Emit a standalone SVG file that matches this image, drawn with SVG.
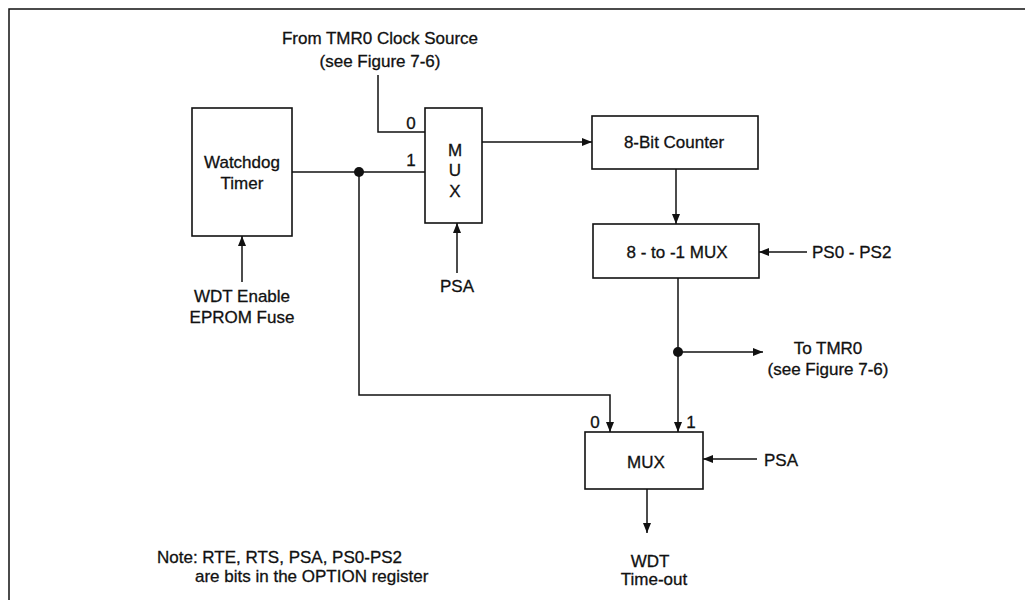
<svg xmlns="http://www.w3.org/2000/svg" width="1025" height="600" viewBox="0 0 1025 600">
<style>
  .box { fill: #fff; stroke: #111; stroke-width: 1.6; }
  .wire { fill: none; stroke: #111; stroke-width: 1.5; }
  text { font-family: "Liberation Sans", Arial, sans-serif; font-size: 17px; fill: #111; stroke: #111; stroke-width: 0.3; }
  .c { text-anchor: middle; }
</style>
<defs>
  <marker id="arr" markerWidth="10" markerHeight="8" refX="10" refY="4" orient="auto" markerUnits="userSpaceOnUse">
    <path d="M0,0 L10,4 L0,8 Z" fill="#111"/>
  </marker>
</defs>
<rect width="1025" height="600" fill="#fff"/>
<path class="wire" d="M9,600 V9 H1025" stroke-width="1.8"/>

<g id="connectors">
  <path class="wire" d="M378,75 V132 H425"/>
  <path class="wire" d="M292,172 H425"/>
  <path class="wire" d="M359,172 V395 H610 V432" marker-end="url(#arr)"/>
  <path class="wire" d="M482,142 H592" marker-end="url(#arr)"/>
  <path class="wire" d="M457,273 V223" marker-end="url(#arr)"/>
  <path class="wire" d="M242,282 V236" marker-end="url(#arr)"/>
  <path class="wire" d="M676,169 V224" marker-end="url(#arr)"/>
  <path class="wire" d="M807,252 H759" marker-end="url(#arr)"/>
  <path class="wire" d="M678,278 V432" marker-end="url(#arr)"/>
  <path class="wire" d="M678,352 H763" marker-end="url(#arr)"/>
  <path class="wire" d="M757,459 H703" marker-end="url(#arr)"/>
  <path class="wire" d="M647,489 V533" marker-end="url(#arr)"/>
  <circle cx="359" cy="172" r="5" fill="#111"/>
  <circle cx="678" cy="352" r="5" fill="#111"/>
</g>

<g id="tmr0-source">
  <text class="c" x="380" y="44">From TMR0 Clock Source</text>
  <text class="c" x="380" y="67">(see Figure 7-6)</text>
</g>

<g id="watchdog-timer">
  <rect class="box" x="192" y="108" width="100" height="128"/>
  <text class="c" x="242" y="168">Watchdog</text>
  <text class="c" x="242" y="189">Timer</text>
</g>

<g id="wdt-enable">
  <text class="c" x="242" y="302">WDT Enable</text>
  <text class="c" x="242" y="323">EPROM Fuse</text>
</g>

<g id="mux1">
  <rect class="box" x="425" y="108" width="57" height="115"/>
  <text class="c" x="455" y="156">M</text>
  <text class="c" x="455" y="176">U</text>
  <text class="c" x="455" y="197">X</text>
  <text class="c" x="411" y="129">0</text>
  <text class="c" x="411" y="166">1</text>
</g>

<g id="psa1">
  <text class="c" x="457" y="292">PSA</text>
</g>

<g id="counter">
  <rect class="box" x="592" y="116" width="166" height="53"/>
  <text class="c" x="674" y="148">8-Bit Counter</text>
</g>

<g id="mux8">
  <rect class="box" x="593" y="224" width="166" height="54"/>
  <text class="c" x="677" y="258">8 - to -1 MUX</text>
</g>

<g id="ps-label">
  <text x="812" y="258">PS0 - PS2</text>
</g>

<g id="to-tmr0">
  <text class="c" x="828" y="354">To TMR0</text>
  <text class="c" x="828" y="375">(see Figure 7-6)</text>
</g>

<g id="mux2">
  <rect class="box" x="585" y="432" width="118" height="57"/>
  <text class="c" x="646" y="468">MUX</text>
  <text class="c" x="595" y="428">0</text>
  <text class="c" x="691" y="428">1</text>
</g>

<g id="psa2">
  <text x="764" y="466">PSA</text>
</g>

<g id="wdt-timeout">
  <text class="c" x="650" y="567">WDT</text>
  <text class="c" x="654" y="585">Time-out</text>
</g>

<g id="note">
  <text x="157" y="563">Note: RTE, RTS, PSA, PS0-PS2</text>
  <text x="195" y="582">are bits in the OPTION register</text>
</g>
</svg>
